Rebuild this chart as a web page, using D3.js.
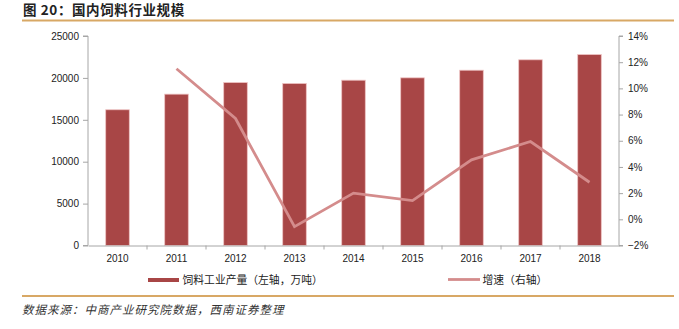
<!DOCTYPE html>
<html>
<head>
<meta charset="utf-8">
<script src="https://cdn.jsdelivr.net/npm/d3@7"></script>
<style>
  html, body { margin: 0; padding: 0; background: #fff; }
  svg { display: block; }
  text { font-family: "Liberation Sans", Arial, "Noto Sans CJK SC", sans-serif; }
  .cjk { font-family: "Noto Sans CJK SC", sans-serif; }
</style>
</head>
<body>
<svg id="chart" width="679" height="329"></svg>
<script>
// Feed industry output (10k tonnes) and year-on-year growth (%)
const years = ["2010", "2011", "2012", "2013", "2014", "2015", "2016", "2017", "2018"];
const output = [16200, 18062, 19449, 19340, 19727, 20009, 20918, 22161, 22788];
const growth = [null, 11.5, 7.7, -0.56, 2.0, 1.43, 4.54, 5.94, 2.83];
const leftTicks = [0, 5000, 10000, 15000, 20000, 25000];
const rightTicks = [-2, 0, 2, 4, 6, 8, 10, 12, 14];

const titleText = "图 20：国内饲料行业规模";
const sourceText = "数据来源：中商产业研究院数据，西南证券整理";
const barLegend = "饲料工业产量（左轴，万吨）";
const lineLegend = "增速（右轴）";

const svg = d3.select("#chart");
const plot = { left: 88, right: 619, top: 36, bottom: 245.5 };

const x = d3.scaleBand().domain(years).range([plot.left, plot.right]).paddingInner(0.6).paddingOuter(0.3);
const xBand = d3.scaleBand().domain(years).range([plot.left, plot.right]);
const yL = d3.scaleLinear().domain([0, 25000]).range([plot.bottom, plot.top]);
const yR = d3.scaleLinear().domain([-2, 14]).range([plot.bottom, plot.top]);

const axisColor = "#a6a6a6";

// header and rules
svg.append("text").attr("class", "cjk")
  .attr("x", 23).attr("y", 14.5)
  .attr("font-size", 13.5).attr("font-weight", "bold").attr("fill", "#222")
  .attr("letter-spacing", 0.6)
  .text(titleText);
svg.append("line").attr("x1", 22).attr("x2", 674).attr("y1", 20.5).attr("y2", 20.5)
  .attr("stroke", "#d8a865").attr("stroke-width", 2);
svg.append("line").attr("x1", 22).attr("x2", 674).attr("y1", 296).attr("y2", 296)
  .attr("stroke", "#d8a865").attr("stroke-width", 2);
svg.append("text").attr("class", "cjk")
  .attr("x", 22).attr("y", 314)
  .attr("font-size", 11.5).attr("font-style", "italic").attr("fill", "#333")
  .attr("letter-spacing", 1.0)
  .text(sourceText);

// bars
svg.append("g").selectAll("rect").data(years).join("rect")
  .attr("x", (d) => x(d))
  .attr("width", x.bandwidth())
  .attr("y", (d, i) => yL(output[i]))
  .attr("height", (d, i) => yL(0) - yL(output[i]))
  .attr("fill", "#a84646")
  .attr("stroke", "#efc4c4").attr("stroke-width", 0.8);

// growth line
const line = d3.line()
  .defined((d) => d.v !== null)
  .x((d) => xBand(d.y) + xBand.bandwidth() / 2)
  .y((d) => yR(d.v));
svg.append("path")
  .datum(years.map((y, i) => ({ y, v: growth[i] })))
  .attr("d", line)
  .attr("fill", "none")
  .attr("stroke", "#d48c8c").attr("stroke-width", 2.8)
  .attr("stroke-linejoin", "miter");

// left axis
const gL = svg.append("g").attr("transform", `translate(${plot.left},0)`)
  .call(d3.axisLeft(yL).tickValues(leftTicks).tickSize(5).tickPadding(4).tickFormat(d3.format("d")));
// right axis
const gR = svg.append("g").attr("transform", `translate(${plot.right},0)`)
  .call(d3.axisRight(yR).tickValues(rightTicks).tickSize(4).tickPadding(5).tickFormat((d) => (d < 0 ? "−" + (-d) : d) + "%"));
// bottom axis: ticks between categories
const gB = svg.append("g").attr("transform", `translate(0,${plot.bottom})`)
  .call(d3.axisBottom(xBand).tickSize(0).tickPadding(9));
gB.selectAll(".sep").data(years.slice(1)).join("line")
  .attr("class", "sep")
  .attr("x1", (d) => xBand(d)).attr("x2", (d) => xBand(d))
  .attr("y1", 0).attr("y2", 4)
  .attr("stroke", axisColor);

[gL, gR, gB].forEach((g) => {
  g.select(".domain").attr("stroke", axisColor).attr("stroke-width", 1);
  g.selectAll(".tick line").attr("stroke", axisColor);
  g.selectAll("text").attr("font-size", 10).attr("fill", "#222")
    .attr("font-family", "'Liberation Sans', Arial, sans-serif");
});
gL.select(".domain").attr("d", `M-5,${plot.top}H0V${plot.bottom}H-5`);
gR.select(".domain").attr("d", `M4,${plot.top}H0V${plot.bottom}H4`);

// legend
const lg = svg.append("g");
lg.append("rect").attr("x", 148).attr("y", 278).attr("width", 31).attr("height", 4).attr("fill", "#a84646");
lg.append("text").attr("class", "cjk").attr("x", 182.5).attr("y", 284)
  .attr("font-size", 10.8).attr("fill", "#222").text(barLegend);
lg.append("line").attr("x1", 448).attr("x2", 480).attr("y1", 279.5).attr("y2", 279.5)
  .attr("stroke", "#d48c8c").attr("stroke-width", 2.8);
lg.append("text").attr("class", "cjk").attr("x", 482.5).attr("y", 284)
  .attr("font-size", 10.8).attr("fill", "#222").text(lineLegend);
</script>
</body>
</html>
